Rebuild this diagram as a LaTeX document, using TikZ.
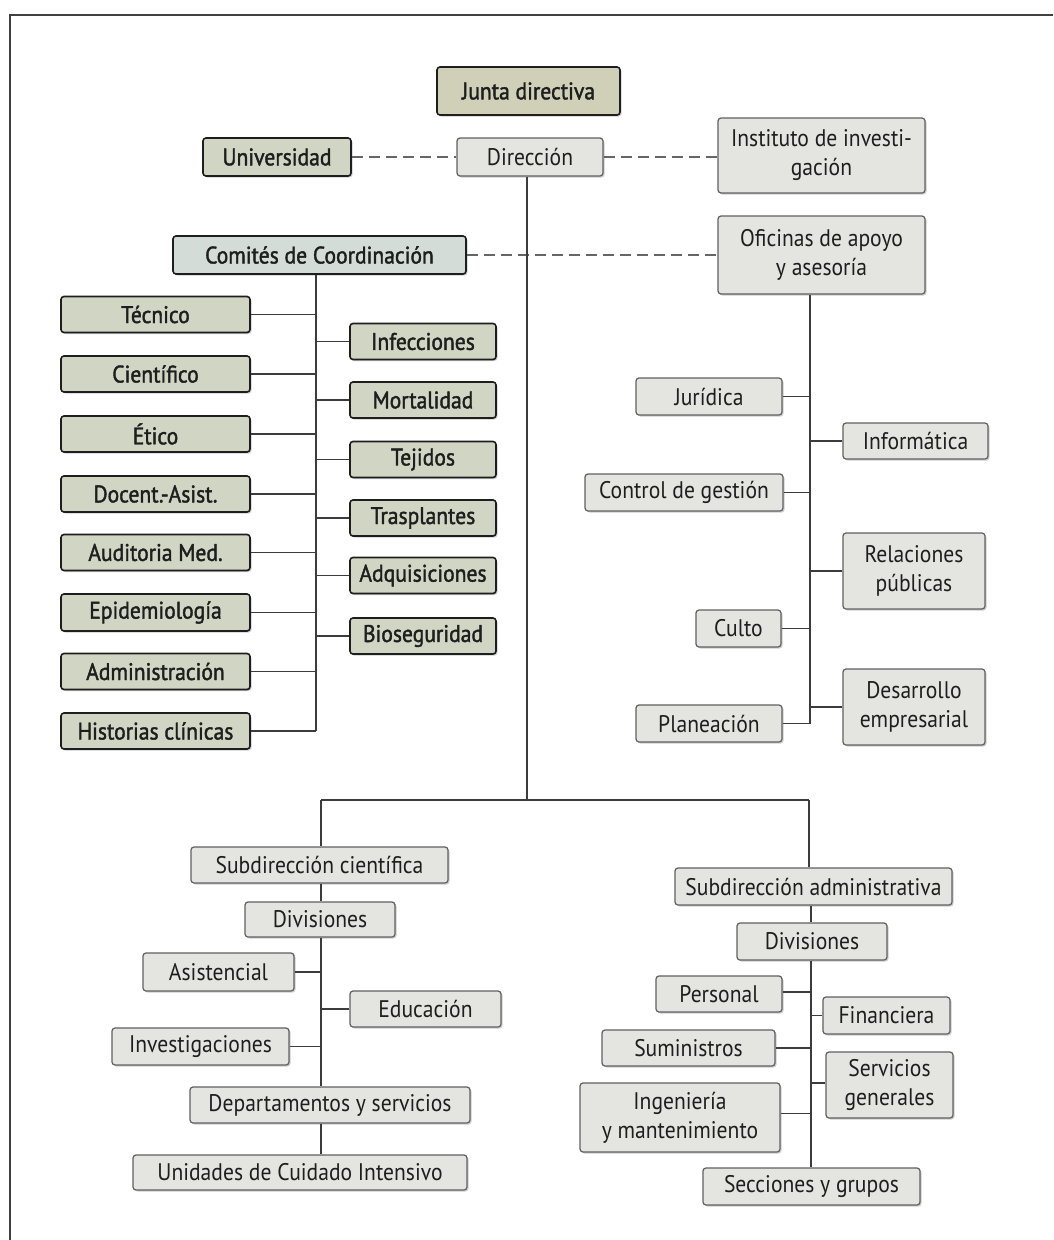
\documentclass[tikz,border=0pt]{standalone}
\usepackage{fontspec}
\setmainfont{PT Sans}[FakeStretch=0.9]
\newfontfamily\dkfont{PT Sans}[FakeStretch=0.9,FakeBold=1.6]
\usetikzlibrary{shadows}
\definecolor{dkfill}{HTML}{D1D5C4}
\definecolor{jfill}{HTML}{D0D0B8}
\definecolor{cfill}{HTML}{D3DCD7}
\definecolor{ltfill}{HTML}{E4E5E0}
\definecolor{ink}{HTML}{1E1E1E}
\definecolor{lnc}{HTML}{3C3C3C}
\tikzset{
  basebox/.style={rectangle, rounded corners=3pt, inner sep=0pt, align=center,
    text=ink, font=\fontsize{24}{29}\selectfont,
    drop shadow={shadow xshift=1.5pt, shadow yshift=-1.5pt, opacity=0.4}},
  dkbox/.style={basebox, draw=ink, line width=1.6pt, fill=dkfill, font=\dkfont\fontsize{24}{29}\selectfont},
  jdbox/.style={dkbox, fill=jfill},
  cmbox/.style={dkbox, fill=cfill},
  ltbox/.style={basebox, draw=gray!75!black, line width=1.2pt, fill=ltfill},
  conn/.style={draw=lnc, line width=1.4pt},
  dsh/.style={draw=gray!80!black, line width=1.7pt, dash pattern=on 11pt off 6pt}
}
\newcommand\bx[6]{\node[#1, minimum width=#4pt, minimum height=#5pt] (#2) at (#3) {#6};}
\begin{document}
\begin{tikzpicture}[x=1pt,y=-1pt]
\useasboundingbox (0,0) rectangle (1053,1240);
\fill[white] (0,0) rectangle (1053,1240);
% frame
\draw[line width=2.8pt, draw=ink!85] (1053,15) -- (10,15) -- (10,1240);

% top
\bx{jdbox}{junta}{528.5,91}{183}{48}{Junta directiva}
\bx{dkbox}{univ}{277,157}{148}{38}{Universidad}
\bx{ltbox}{dir}{530,157}{146}{38}{Dirección}
\bx{ltbox}{inst}{821.5,155.5}{207}{75}{Instituto de investi-\\gación}
\bx{cmbox}{com}{319.5,255}{293}{38}{Comités de Coordinación}
\bx{ltbox}{ofi}{821.5,255}{207}{78}{Oficinas de apoyo\\y asesoría}

% committees left
\bx{dkbox}{tec}{155.5,314.5}{189}{36}{Técnico}
\bx{dkbox}{cie}{155.5,374}{189}{36}{Científico}
\bx{dkbox}{eti}{155.5,434}{189}{36}{Ético}
\bx{dkbox}{doc}{155.5,494}{189}{36}{Docent.-Asist.}
\bx{dkbox}{aud}{155.5,552.5}{189}{36}{Auditoria Med.}
\bx{dkbox}{epi}{155.5,612.5}{189}{37}{Epidemiología}
\bx{dkbox}{adm}{155.5,671.5}{189}{36}{Administración}
\bx{dkbox}{his}{155.5,731}{189}{36}{Historias clínicas}
% committees right
\bx{dkbox}{inf}{423,341.5}{146}{36}{Infecciones}
\bx{dkbox}{mor}{423,400}{146}{36}{Mortalidad}
\bx{dkbox}{tej}{423,459.5}{146}{36}{Tejidos}
\bx{dkbox}{tra}{423,518}{146}{36}{Trasplantes}
\bx{dkbox}{adq}{423,575.5}{146}{36}{Adquisiciones}
\bx{dkbox}{bio}{423,636}{146}{36}{Bioseguridad}

% offices
\bx{ltbox}{jur}{709,396.5}{146}{37}{Jurídica}
\bx{ltbox}{info}{915.5,441}{145}{36}{Informática}
\bx{ltbox}{ctrl}{684,492.5}{198}{37}{Control de gestión}
\bx{ltbox}{rel}{914,571}{142}{76}{Relaciones\\públicas}
\bx{ltbox}{cul}{738.5,628.5}{85}{37}{Culto}
\bx{ltbox}{des}{914,707}{142}{76}{Desarrollo\\empresarial}
\bx{ltbox}{plan}{709,723.5}{146}{37}{Planeación}

% bottom left
\bx{ltbox}{scl}{319.5,865}{257}{36}{Subdirección científica}
\bx{ltbox}{divl}{320,919.5}{150}{35}{Divisiones}
\bx{ltbox}{asi}{218.5,972}{151}{38}{Asistencial}
\bx{ltbox}{edu}{425.5,1009}{151}{36}{Educación}
\bx{ltbox}{inv}{200.5,1046.5}{177}{37}{Investigaciones}
\bx{ltbox}{dep}{330,1105}{280}{36}{Departamentos y servicios}
\bx{ltbox}{uci}{300,1172.5}{334}{35}{Unidades de Cuidado Intensivo}

% bottom right
\bx{ltbox}{sa}{813.5,886.5}{277}{37}{Subdirección administrativa}
\bx{ltbox}{divr}{812,941.5}{150}{37}{Divisiones}
\bx{ltbox}{per}{719,994}{126}{36}{Personal}
\bx{ltbox}{fin}{886.5,1015.5}{127}{37}{Financiera}
\bx{ltbox}{sum}{688.5,1048}{173}{36}{Suministros}
\bx{ltbox}{ser}{889.5,1085}{127}{66}{Servicios\\generales}
\bx{ltbox}{ing}{680,1117.5}{200}{69}{Ingeniería\\y mantenimiento}
\bx{ltbox}{sec}{811.5,1186.5}{217}{37}{Secciones y grupos}

% helper coordinates
\coordinate (vc) at (316,0);
\coordinate (vo) at (810,0);
\coordinate (hL) at (321,800);
\coordinate (hR) at (809,800);
\coordinate (vR) at (811,0);
\coordinate (vt) at (527,800);

% dashed links
\draw[dsh] (univ.east) -- (dir.west);
\draw[dsh] (dir.east) -- (dir.east -| inst.west);
\draw[dsh] (com.east) -- (com.east -| ofi.west);

% trunk
\draw[conn] (dir.south -| vt) -- (vt);
\draw[conn] (hL) -- (hR);
\draw[conn] (hL) -- (hL |- scl.north);
\draw[conn] (hR) -- (hR |- sa.north);

% committees
\draw[conn] (com.south -| vc) -- (vc |- his.east);
\foreach \n in {tec,cie,eti,doc,aud,epi,adm,his} \draw[conn] (\n.east) -- (\n.east -| vc);
\foreach \n in {inf,mor,tej,tra,adq,bio} \draw[conn] (\n.west) -- (\n.west -| vc);

% offices
\draw[conn] (ofi.south -| vo) -- (vo |- plan.east);
\foreach \n in {jur,ctrl,cul,plan} \draw[conn] (\n.east) -- (\n.east -| vo);
\draw[conn] (info.west) -- (info.west -| vo);
\draw[conn] (rel.west) -- (rel.west -| vo);
\draw[conn] (des.west) -- (des.west -| vo);

% bottom left tree
\draw[conn] (scl.south -| hL) -- (divl.north -| hL);
\draw[conn] (divl.south -| hL) -- (dep.north -| hL);
\draw[conn] (dep.south -| hL) -- (uci.north -| hL);
\draw[conn] (asi.east) -- (asi.east -| hL);
\draw[conn] (inv.east) -- (inv.east -| hL);
\draw[conn] (edu.west) -- (edu.west -| hL);

% bottom right tree
\draw[conn] (sa.south -| vR) -- (divr.north -| vR);
\draw[conn] (divr.south -| vR) -- (sec.north -| vR);
\draw[conn] ([yshift=2pt]per.east) -- ([yshift=2pt]per.east -| vR);
\draw[conn] (sum.east) -- (sum.east -| vR);
\draw[conn] ([yshift=4pt]ing.east) -- ([yshift=4pt]ing.east -| vR);
\draw[conn] (fin.west) -- (fin.west -| vR);
\draw[conn] ([yshift=2pt]ser.west) -- ([yshift=2pt]ser.west -| vR);
\end{tikzpicture}
\end{document}
